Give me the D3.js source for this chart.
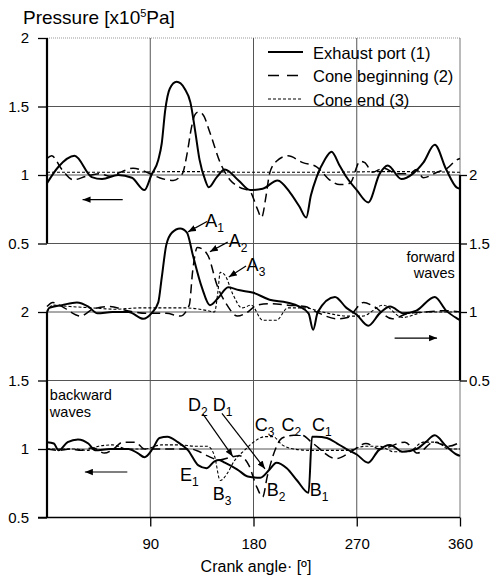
<!DOCTYPE html>
<html>
<head>
<meta charset="utf-8">
<script src="https://cdn.jsdelivr.net/npm/d3@7"></script>
<style>
body{margin:0;background:#fff}
text{font-family:"Liberation Sans",Arial,sans-serif;fill:#000}
</style>
</head>
<body>
<div class="chart"></div>
<script>
//crank angle [deg] / pressure pairs, one list per curve
//top panel: measured pressures
const topPort = [[0,0.94],[10,1.06],[24,1.14],[39,0.985],[48,0.97],[62,1.0],[74,0.98],[85,0.89],[91,1.0],[97,1.11],[100,1.23],[103,1.47],[107,1.63],[113,1.68],[120,1.63],[125,1.53],[129,1.33],[133,1.11],[138,0.96],[141,0.91],[148,0.985],[155,1.04],[167,0.96],[177,0.89],[188,0.9],[201,0.96],[212,0.87],[220,0.77],[226,0.69],[230,0.85],[235,0.985],[242,1.11],[248,1.17],[255,1.07],[261,0.985],[270,0.89],[280,0.8],[290,1.01],[297,1.07],[309,0.97],[319,1.01],[328,1.09],[338,1.22],[348,1.04],[357,0.91],[360,0.9]];
const topConeBeg = [[0,1.12],[4,1.14],[13,1.04],[23,0.965],[34,0.99],[46,1.01],[55,0.99],[64,1.02],[75,1.05],[87,1.02],[98,0.98],[110,0.96],[118,1.01],[122,1.15],[126,1.35],[129,1.44],[132,1.46],[136,1.44],[142,1.31],[151,1.09],[160,0.96],[168,0.91],[177,0.88],[183,0.76],[187,0.69],[191,0.85],[194,1.01],[200,1.1],[210,1.14],[223,1.09],[235,1.06],[247,0.96],[255,0.93],[264,0.94],[273,1.1],[277,1.09],[284,1.02],[293,1.05],[305,1.01],[316,1.01],[322,1.04],[328,0.98],[340,1.02],[349,1.05],[357,1.11],[360,1.12]];
const topConeEnd = [[0,1.02],[60,1.02],[120,1.025],[180,1.02],[240,1.02],[300,1.025],[360,1.02]];
//middle panel: forward waves
const fwdPort = [[0,1.0],[2,1.03],[13,1.05],[26,1.07],[36,1.04],[44,0.99],[57,1.0],[71,1.0],[84,0.95],[91,0.99],[97,1.07],[100,1.25],[104,1.49],[109,1.58],[116,1.61],[122,1.58],[127,1.42],[135,1.18],[142,1.05],[149,1.1],[158,1.18],[167,1.16],[180,1.14],[194,1.09],[209,1.07],[220,1.04],[228,0.99],[232,0.87],[236,1.0],[251,1.11],[261,1.03],[270,0.98],[280,0.9],[290,0.99],[299,1.04],[311,0.99],[322,1.01],[338,1.11],[348,1.01],[358,0.95],[360,0.94]];
const fwdConeBeg = [[0,1.04],[5,1.07],[15,1.03],[29,0.97],[40,1.02],[55,1.04],[70,1.01],[87,0.99],[104,0.99],[116,0.97],[124,1.05],[127,1.3],[131,1.47],[137,1.45],[141,1.4],[148,1.2],[157,1.05],[166,0.97],[175,1.0],[183,1.05],[195,1.06],[210,1.05],[225,1.04],[235,1.0],[253,0.95],[262,0.96],[276,1.07],[285,1.04],[301,0.95],[315,0.99],[330,1.0],[348,1.01],[360,1.0]];
const fwdConeEnd = [[0,1.0],[5,1.05],[20,1.04],[40,1.03],[60,1.02],[80,1.03],[100,1.03],[120,1.03],[140,1.01],[146,1.0],[149,1.15],[151,1.29],[155,1.27],[162,1.13],[170,1.03],[178,1.05],[188,0.94],[200,0.94],[210,1.03],[225,1.03],[240,1.0],[262,0.97],[275,0.97],[293,1.05],[310,0.96],[330,1.0],[345,1.0],[360,1.0]];
//bottom panel: backward waves
const bwdPort = [[0,1.05],[6,1.04],[10,0.99],[18,1.05],[27,1.07],[36,1.04],[42,0.99],[55,1.0],[71,1.0],[79,0.97],[85,0.94],[92,1.0],[98,1.08],[105,1.09],[114,1.05],[123,0.99],[132,0.88],[139,0.86],[146,0.91],[150,0.92],[155,0.9],[166,0.85],[175,0.8],[186,0.79],[194,0.85],[200,0.9],[209,0.86],[218,0.77],[228,0.68],[231,1.09],[235,1.09],[244,1.08],[253,1.04],[261,1.0],[270,0.96],[280,0.9],[289,0.99],[299,1.03],[310,0.98],[322,1.0],[330,1.05],[338,1.1],[348,1.02],[357,0.96],[360,0.95]];
const bwdConeBeg = [[0,1.0],[10,0.99],[20,1.0],[30,0.99],[40,1.01],[50,0.97],[58,1.0],[66,1.05],[77,1.05],[85,1.0],[100,1.0],[115,1.0],[125,1.0],[133,0.98],[140,0.95],[150,0.92],[160,0.94],[168,0.95],[176,0.88],[183,0.72],[188,0.65],[192,0.8],[197,0.95],[205,1.08],[215,1.1],[222,1.1],[232,1.04],[252,0.93],[265,0.98],[278,1.04],[290,1.0],[312,1.05],[323,0.97],[337,1.05],[350,1.02],[360,1.05]];
const bwdConeEnd = [[0,1.0],[10,1.0],[25,1.0],[35,0.99],[45,1.02],[57,1.03],[70,1.0],[85,1.0],[100,1.03],[115,1.03],[130,1.02],[140,1.02],[146,0.95],[151,0.77],[157,0.82],[163,0.91],[172,0.99],[180,1.05],[190,1.09],[197,1.09],[205,1.03],[215,1.0],[230,0.99],[245,0.99],[262,0.99],[277,1.02],[290,1.02],[302,0.98],[315,0.98],[328,1.05],[340,1.05],[350,1.0],[360,1.0]];

const angleTicks = [90,180,270,360];
const leftTickLabels = ['2','1.5','1','0.5','2','1.5','1','0.5'];
const rightTickLabels = ['2','1.5','1','0.5'];
const legendNames = ['Exhaust port (1)','Cone beginning (2)','Cone end (3)'];

//labels: [text, subscript, angle, pressure, panel]
const pointLabels = [
	['A','1',138,1.62,'fwd'],['A','2',158.5,1.475,'fwd'],['A','3',174,1.3,'fwd'],
	['D','2',123,1.28,'bwd'],['D','1',144.5,1.28,'bwd'],['E','1',116,0.77,'bwd'],
	['B','3',144.5,0.63,'bwd'],['B','2',191.5,0.66,'bwd'],['B','1',229,0.66,'bwd'],
	['C','3',181,1.13,'bwd'],['C','2',204.5,1.13,'bwd'],['C','1',231,1.13,'bwd']
];
//pointers: [angle0, p0, angle1, p1, panel]  (head at the second point)
const pointers = [
	[139.5,1.66,123,1.585,'fwd'],[157.5,1.51,142,1.44,'fwd'],[173.5,1.335,158.5,1.255,'fwd'],
	[136,1.255,162,0.945,'bwd'],[152.5,1.26,190,0.855,'bwd'],
	[66,0.82,31,0.82,'top'],[303,0.81,340,0.81,'fwd'],[70,0.832,33,0.832,'bwd']
];

const W = 492, H = 577;
const offset = {top:2, fwd:1, bwd:0}; //panels are stacked on one pressure scale

const x = d3.scaleLinear().domain([0,360]).range([47,460]);
const y = d3.scaleLinear().domain([0.5,4]).range([517.5,38]);

const svg = d3.select('.chart').append('svg')
	.attr('width',W)
	.attr('height',H);

svg.append('defs').append('marker')
	.attr('id','head')
	.attr('markerUnits','userSpaceOnUse')
	.attr('viewBox','0 0 10 8')
	.attr('refX',10).attr('refY',4)
	.attr('markerWidth',8).attr('markerHeight',7)
	.attr('orient','auto')
	.append('path').attr('d','M0,0L10,4L0,8z').attr('fill','#000');

//grid
const gridY = [4,3.5,3,2.5,2,1.5,1];
svg.append('g').selectAll('line').data(gridY).join('line')
	.attr('x1',x(0)).attr('x2',x(360))
	.attr('y1',d=>y(d)).attr('y2',d=>y(d))
	.attr('stroke',d=>d===4?'#999':'#555')
	.attr('stroke-width',1)
	.attr('stroke-dasharray',d=>d===4?'1,1':null);
svg.append('g').selectAll('line').data(angleTicks).join('line')
	.attr('x1',d=>x(d)).attr('x2',d=>x(d))
	.attr('y1',y(4)).attr('y2',y(0.5))
	.attr('stroke',d=>d===360?'#777':'#555')
	.attr('stroke-width',1);

//axes
const leftAxis = d3.axisLeft(y)
	.tickValues([4,3.5,3,2.5,2,1.5,1,0.5])
	.tickFormat((d,i)=>leftTickLabels[i])
	.tickSize(9).tickPadding(9);
const gl = svg.append('g').attr('transform',`translate(${x(0)},0)`).call(leftAxis);
gl.select('.domain').remove();

const rightAxis = d3.axisRight(y)
	.tickValues([3,2.5,2,1.5])
	.tickFormat((d,i)=>rightTickLabels[i])
	.tickSize(7).tickPadding(2);
const gr = svg.append('g').attr('transform',`translate(${x(360)},0)`).call(rightAxis);
gr.select('.domain').remove();

const bottomAxis = d3.axisBottom(x)
	.tickValues(angleTicks)
	.tickSize(9).tickPadding(12);
const gb = svg.append('g').attr('transform',`translate(0,${y(0.5)})`).call(bottomAxis);
gb.select('.domain').remove();

svg.selectAll('.tick text').style('font-size','15px').style('font-family','"Liberation Sans",Arial,sans-serif');
svg.selectAll('.tick line').attr('stroke','#000').attr('stroke-width',1.3);

//axis lines, one per panel
const axisLines = [[0,4,2.5],[0,2,0.5],[360,3,1.5]];
svg.append('g').selectAll('line').data(axisLines).join('line')
	.attr('x1',d=>x(d[0])).attr('x2',d=>x(d[0]))
	.attr('y1',d=>y(d[1])).attr('y2',d=>y(d[2]))
	.attr('stroke','#000').attr('stroke-width',2.2);
svg.append('line')
	.attr('x1',x(0)-9).attr('x2',x(360))
	.attr('y1',y(0.5)).attr('y2',y(0.5))
	.attr('stroke','#000').attr('stroke-width',1.5);

//curves
const styles = [
	{w:2, dash:null},
	{w:1.5, dash:'9,5'},
	{w:1.1, dash:'3,2'}
];
const curves = [
	[topPort,'top',0],[topConeBeg,'top',1],[topConeEnd,'top',2],
	[fwdPort,'fwd',0],[fwdConeBeg,'fwd',1],[fwdConeEnd,'fwd',2],
	[bwdPort,'bwd',0],[bwdConeBeg,'bwd',1],[bwdConeEnd,'bwd',2]
];
curves.forEach(function(c){
	const off = offset[c[1]];
	const line = d3.line()
		.x(d=>x(d[0]))
		.y(d=>y(d[1]+off))
		.curve(d3.curveMonotoneX);
	svg.append('path').datum(c[0])
		.attr('d',line)
		.attr('fill','none')
		.attr('stroke','#000')
		.attr('stroke-width',styles[c[2]].w)
		.attr('stroke-dasharray',styles[c[2]].dash);
});

//legend (no background, grid shows through)
const lg = svg.append('g');
legendNames.forEach(function(name,i){
	const ly = 52 + i*23.5;
	lg.append('line')
		.attr('x1',268).attr('x2',303)
		.attr('y1',ly).attr('y2',ly)
		.attr('stroke','#000')
		.attr('stroke-width',styles[i].w)
		.attr('stroke-dasharray',i===1?'11,8':styles[i].dash);
	lg.append('text')
		.attr('x',313).attr('y',ly+6.5)
		.style('font-size','16.5px')
		.text(name);
});

//pointers and point labels
svg.append('g').selectAll('line').data(pointers).join('line')
	.attr('x1',d=>x(d[0])).attr('y1',d=>y(d[1]+offset[d[4]]))
	.attr('x2',d=>x(d[2])).attr('y2',d=>y(d[3]+offset[d[4]]))
	.attr('stroke','#000').attr('stroke-width',1.2)
	.attr('marker-end','url(#head)');

const lt = svg.append('g').selectAll('text').data(pointLabels).join('text')
	.attr('x',d=>x(d[2])).attr('y',d=>y(d[3]+offset[d[4]]))
	.style('font-size','18px');
lt.append('tspan').text(d=>d[0]);
lt.append('tspan').attr('dy',5).style('font-size','12px').text(d=>d[1]);

//wave notes
const notes = [
	['forward',355.5,1.365,'fwd','end'],['waves',355.5,1.25,'fwd','end'],
	['backward',2.5,1.355,'bwd','start'],['waves',2.5,1.235,'bwd','start']
];
svg.append('g').selectAll('text').data(notes).join('text')
	.attr('x',d=>x(d[1])).attr('y',d=>y(d[2]+offset[d[3]]))
	.attr('text-anchor',d=>d[4])
	.style('font-size','14.5px')
	.text(d=>d[0]);

//titles
const title = svg.append('text').attr('x',23).attr('y',24).style('font-size','19px');
title.append('tspan').text('Pressure [x10');
title.append('tspan').attr('dy',-7).style('font-size','11px').text('5');
title.append('tspan').attr('dy',7).text('Pa]');

svg.append('text')
	.attr('x',256).attr('y',572)
	.attr('text-anchor','middle')
	.style('font-size','16px')
	.text('Crank angle\u00b7 [\u00ba]');
</script>
</body>
</html>
